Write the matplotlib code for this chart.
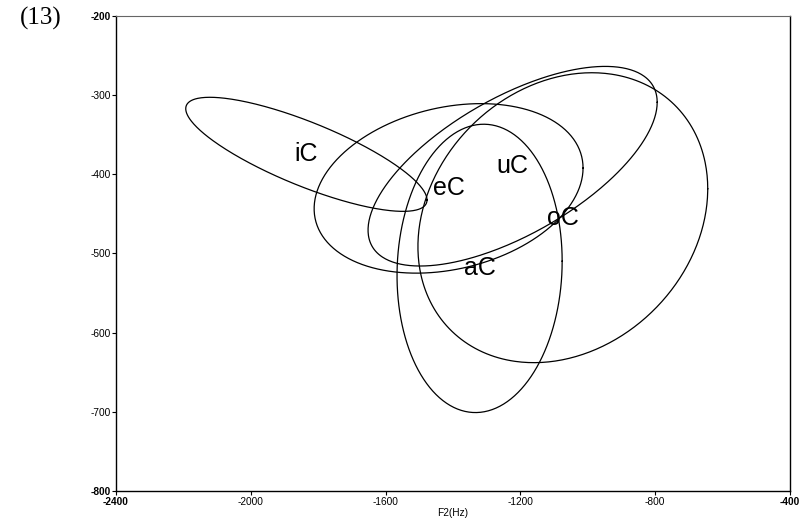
import numpy as np
import matplotlib
matplotlib.use("Agg")
import matplotlib.pyplot as plt

# Vowel categories with ellipse parameters (F2 / F1 in Hz)
vowels = ["iC", "eC", "uC", "aC", "oC"]
f2_mean = [-1835, -1413, -1223, -1321, -1074]
f1_mean = [-375, -418, -390, -519, -455]
f2_spread = [358, 399, 429, 245, 430]   # half extent of ellipse along F2
f1_spread = [72, 107, 126, 182, 183]    # half extent of ellipse along F1
corr = [-0.80, 0.24, 0.64, 0.05, 0.20]

x_ticks = [-2400, -2000, -1600, -1200, -800, -400]
y_ticks = [-800, -700, -600, -500, -400, -300, -200]

fig = plt.figure(figsize=(8.06, 5.2), dpi=100)
ax = fig.add_axes([0.1439, 0.0558, 0.9801 - 0.1439, 0.9698 - 0.0558])

t = np.linspace(0, 2 * np.pi, 400)
circle = np.vstack([np.cos(t), np.sin(t)])
for name, mx, my, sx, sy, r in zip(vowels, f2_mean, f1_mean, f2_spread, f1_spread, corr):
    cov = np.array([[sx * sx, r * sx * sy], [r * sx * sy, sy * sy]])
    L = np.linalg.cholesky(cov)
    pts = L @ circle
    ax.plot(mx + pts[0], my + pts[1], color="black", lw=0.9)
    ax.text(mx, my, name, ha="center", va="center", fontsize=18,
            family="Liberation Sans")

ax.set_xlim(-2400, -400)
ax.set_ylim(-800, -200)
ax.set_xticks(x_ticks)
ax.set_yticks(y_ticks)
ax.set_xticklabels([str(v) for v in x_ticks], family="Liberation Sans", fontsize=7.3)
ax.set_yticklabels([str(v) for v in y_ticks], family="Liberation Sans", fontsize=7.3)
for lab in (ax.get_xticklabels()[0], ax.get_xticklabels()[-1],
            ax.get_yticklabels()[0], ax.get_yticklabels()[-1]):
    lab.set_fontweight("bold")
ax.tick_params(direction="out", length=3, width=0.8, pad=1)
ax.set_xlabel("F2(Hz)", family="Liberation Sans", fontsize=7.3, labelpad=1)

for side in ["left", "bottom", "right"]:
    ax.spines[side].set_linewidth(1.0)
ax.spines["top"].set_color("#666666")
ax.spines["top"].set_linewidth(0.8)

fig.text(20 / 806, 1 - 18 / 520, "(13)", family="Liberation Serif",
         fontsize=18, ha="left", va="center")

fig.savefig("out.png", dpi=100)
